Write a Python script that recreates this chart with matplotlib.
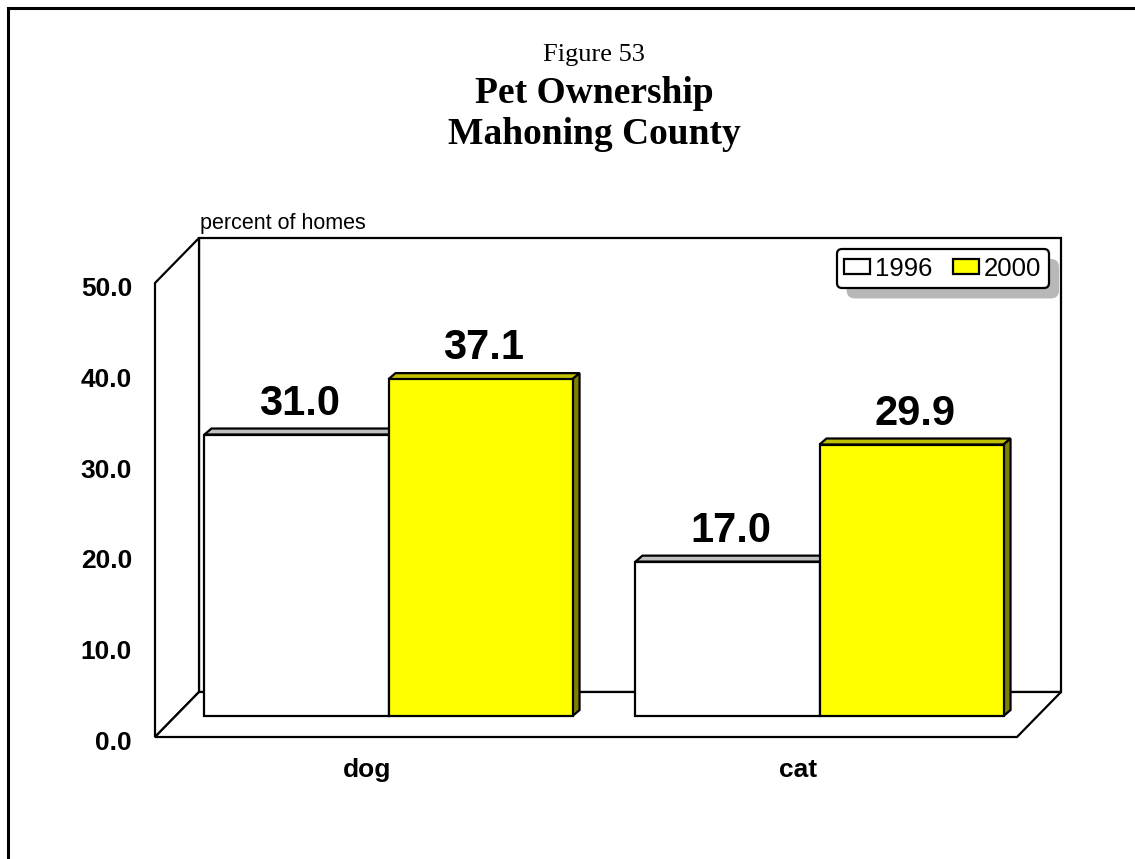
import matplotlib
matplotlib.use("Agg")
import matplotlib.pyplot as plt
import matplotlib.transforms as mtransforms
from matplotlib.patches import Polygon, Rectangle, FancyBboxPatch
import numpy as np

plt.rcParams["font.family"] = ["Liberation Sans", "DejaVu Sans"]

# ── Data ───────────────────────────────────────────────────────────────────────
categories = ["dog", "cat"]
years = ["1996", "2000"]
values_1996 = [31.0, 17.0]
values_2000 = [37.1, 29.9]
y_ticks = [0, 10, 20, 30, 40, 50]
y_tick_labels = ["0.0", "10.0", "20.0", "30.0", "40.0", "50.0"]

# ── Style ──────────────────────────────────────────────────────────────────────
FRONT = ["#ffffff", "#ffff00"]
TOP = ["#c0c0c0", "#c0c000"]
SIDE = ["#808080", "#808000"]
DEPTH = (44, 45)        # pixel offset front plane -> back wall
BAR_SHIFT = (18, 21)    # bars sit in the middle of the depth
BAR_DEPTH = (7, 6)
LW = 1.6

W, H, DPI = 1135, 859, 100
fig = plt.figure(figsize=(W / DPI, H / DPI), dpi=DPI)
fig.patch.set_facecolor("white")

# outer border (right / bottom fall off the picture)
fig.add_artist(Rectangle((8 / W, -1), 2, 2 - 8 / H, transform=fig.transFigure,
                         fill=False, ec="black", lw=2.2))

# ── Titles ─────────────────────────────────────────────────────────────────────
serif = ["Liberation Serif", "DejaVu Serif"]
fig.text(594 / W, 1 - 61 / H, "Figure 53", ha="center", va="baseline",
         fontsize=19, family=serif)
fig.text(594 / W, 1 - 103 / H, "Pet Ownership", ha="center", va="baseline",
         fontsize=27, fontweight="bold", family=serif)
fig.text(594 / W, 1 - 144 / H, "Mahoning County", ha="center", va="baseline",
         fontsize=27, fontweight="bold", family=serif)

# ── Axes (front plane of the 3-D box) ─────────────────────────────────────────
ax = fig.add_axes([155 / W, 1 - 737 / H, 862 / W, 454 / H])
ax.set_xlim(-0.5, 1.5)
ax.set_ylim(0, 50)
ax.axis("off")

ident = mtransforms.IdentityTransform()
front = ax.transAxes.transform([(0, 0), (1, 0), (1, 1), (0, 1)])
back = front + np.array(DEPTH)

walls = [
    [back[0], back[1], back[2], back[3]],     # back wall
    [front[0], front[3], back[3], back[0]],   # left wall
    [front[0], front[1], back[1], back[0]],   # floor
]
for pts in walls:
    ax.add_patch(Polygon(pts, closed=True, fc="white", ec="black", lw=LW,
                         transform=ident, clip_on=False, zorder=1))

# ── Bars ───────────────────────────────────────────────────────────────────────
x = np.arange(len(categories))
bw = 0.427
bar_tr = ax.transData + mtransforms.Affine2D().translate(*BAR_SHIFT)
label_tr = bar_tr + mtransforms.Affine2D().translate(3, 20)
dx, dy = BAR_DEPTH

for i, (vals, yr) in enumerate(zip([values_1996, values_2000], years)):
    xs = x - bw + i * bw
    ax.bar(xs, vals, bw, align="edge", color=FRONT[i], edgecolor="black",
           linewidth=LW, transform=bar_tr, zorder=3 + i, label=yr, clip_on=False)
    for xl, v in zip(xs, vals):
        x0, y0 = bar_tr.transform((xl, 0))
        x1, y1 = bar_tr.transform((xl + bw, v))
        top = [(x0, y1), (x1, y1), (x1 + dx, y1 + dy), (x0 + dx, y1 + dy)]
        side = [(x1, y0), (x1, y1), (x1 + dx, y1 + dy), (x1 + dx, y0 + dy)]
        ax.add_patch(Polygon(top, closed=True, fc=TOP[i], ec="black", lw=LW,
                             transform=ident, clip_on=False, zorder=2.9 + i))
        ax.add_patch(Polygon(side, closed=True, fc=SIDE[i], ec="black", lw=LW,
                             transform=ident, clip_on=False, zorder=2.9 + i))
        ax.text(xl + bw / 2, v, f"{v:.1f}", transform=label_tr, ha="center",
                va="baseline", fontsize=30, fontweight="bold", zorder=6)

# ── Axis labels ────────────────────────────────────────────────────────────────
ytr = (mtransforms.blended_transform_factory(ax.transAxes, ax.transData)
       + mtransforms.Affine2D().translate(-23, -6))
for t, lab in zip(y_ticks, y_tick_labels):
    ax.text(0, t, lab, transform=ytr, ha="right", va="center",
            fontsize=19, fontweight="bold")

xtr = ax.transData + mtransforms.Affine2D().translate(-3, -33)
for xi, name in zip(x, categories):
    ax.text(xi, 0, name, transform=xtr, ha="center", va="center",
            fontsize=19, fontweight="bold")

ax.text(0, 1, "percent of homes",
        transform=ax.transAxes + mtransforms.Affine2D().translate(DEPTH[0] + 1, DEPTH[1] + 9),
        ha="left", va="baseline", fontsize=15.5)

# ── Legend with drop shadow ────────────────────────────────────────────────────
leg = ax.legend(loc="upper right", bbox_to_anchor=(1049 / W, 1 - 249 / H),
                bbox_transform=fig.transFigure, ncol=2, fontsize=18.5,
                frameon=True, fancybox=True, edgecolor="black", framealpha=1,
                handlelength=1.0, handleheight=0.55, handletextpad=0.2,
                columnspacing=0.8, borderpad=0.3, borderaxespad=0)
leg.get_frame().set_linewidth(LW)
leg.set_zorder(8)

fig.canvas.draw()
bb = leg.get_frame().get_window_extent(fig.canvas.get_renderer())
ax.add_patch(FancyBboxPatch((bb.x0 + 10, bb.y0 - 10), bb.width, bb.height,
                            boxstyle="round,pad=0,rounding_size=8",
                            fc="#b8b8b8", ec="none", transform=ident,
                            clip_on=False, zorder=7))

fig.savefig("out.png", dpi=DPI)
